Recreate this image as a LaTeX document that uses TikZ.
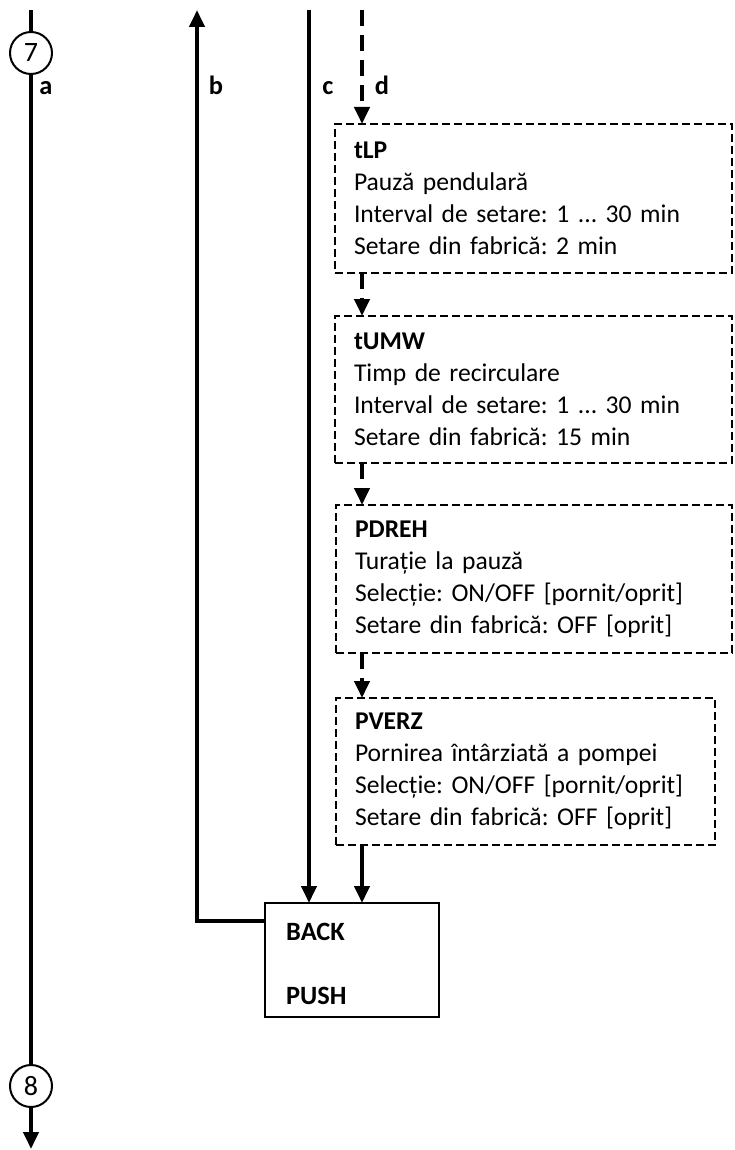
\documentclass[tikz,border=0pt]{standalone}
\usepackage{fontspec}
\setmainfont{Carlito}
\usetikzlibrary{arrows.meta}
\frenchspacing
\hyphenpenalty=10000
\begin{document}
\begin{tikzpicture}[x=1pt,y=-1pt,
  font=\fontsize{25.6}{32}\selectfont,
  thickline/.style={line width=4pt},
  tipped/.style={-{Triangle[length=17pt,width=15pt]}},
  thickdash/.style={line width=4pt, dash pattern=on 16pt off 9pt},
  dbox/.style={draw, line width=1.6pt, dash pattern=on 8pt off 4pt, anchor=north west,
    align=left, inner xsep=19pt, inner ysep=0pt, outer sep=0pt},
  conn/.style={draw, line width=2pt, circle, minimum size=42pt, inner sep=0pt},
  lbl/.style={font=\fontsize{26.4}{32}\selectfont\bfseries, inner sep=0pt},
  sbox/.style={draw, line width=1.6pt, anchor=north west, outer sep=0pt}
]
\useasboundingbox (0,0) rectangle (734,1150);

% boxes
\node[dbox, text width=359pt, minimum height=149pt] (b1) at (335,124)
  {\textbf{tLP}\\Pauză pendulară\\Interval de setare: 1 ... 30 min\\Setare din fabrică: 2 min};
\node[dbox, text width=359pt, minimum height=147pt] (b2) at (335,316)
  {\textbf{tUMW}\\Timp de recirculare\\Interval de setare: 1 ... 30 min\\Setare din fabrică: 15 min};
\node[dbox, text width=358pt, minimum height=148pt] (b3) at (336,505)
  {\textbf{PDREH}\\Turație la pauză\\Selecție: ON/OFF [pornit/oprit]\\Setare din fabrică: OFF [oprit]};
\node[dbox, text width=341pt, minimum height=147pt] (b4) at (336,698)
  {\textbf{PVERZ}\\Pornirea întârziată a pompei\\Selecție: ON/OFF [pornit/oprit]\\Setare din fabrică: OFF [oprit]};

\node[sbox, minimum width=174pt, minimum height=114pt] (back) at (265,903) {};
\node[lbl, anchor=west] (backt) at (286,932) {BACK};
\node[lbl, anchor=west] (pusht) at (286,996) {PUSH};

% connectors
\node[conn, font=\fontsize{28}{32}\selectfont] (c7) at (31,53) {7};
\node[conn, font=\fontsize{28}{32}\selectfont] (c8) at (31,1086) {8};
\coordinate (atop) at (31,10);
\coordinate (abot) at (31,1149);
\coordinate (btop) at (197,10);
\coordinate (bturn) at (197,921);
\coordinate (ctop) at (309,10);
\coordinate (dtop) at (362,10);

\draw[thickline] (atop) -- (c7);
\draw[thickline] (c7) -- (c8);
\draw[thickline, tipped] (c8) -- (abot);

\draw[thickline, tipped] (bturn -| back.west) -- (bturn) -- (btop);
\draw[thickline, tipped] (ctop) -- (ctop |- back.north);
\draw[thickdash, tipped] (dtop) -- (dtop |- b1.north);
\draw[thickdash, tipped] (dtop |- b1.south) -- (dtop |- b2.north);
\draw[thickdash, tipped] (dtop |- b2.south) -- (dtop |- b3.north);
\draw[thickdash, tipped] (dtop |- b3.south) -- (dtop |- b4.north);
\draw[thickline, tipped] (dtop |- b4.south) -- (dtop |- back.north);

% labels
\node[lbl, anchor=base] (la) at (46,95) {a};
\node[lbl, anchor=base] (lb) at (216,95) {b};
\node[lbl, anchor=base] (lc) at (328,95) {c};
\node[lbl, anchor=base] (ld) at (382,95) {d};
\end{tikzpicture}
\end{document}
